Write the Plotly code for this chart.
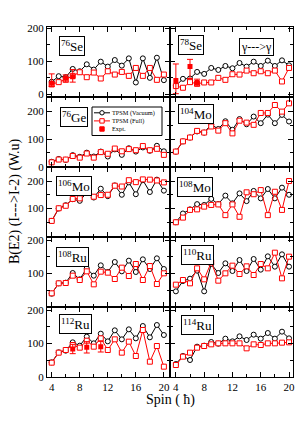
import plotly.graph_objects as go
from plotly.subplots import make_subplots

spins = list(range(4, 21))

# TPSM (Vacuum) / TPSM (Full) values, spin 4..20
se76_vac = [38, 55, 52, 77, 70, 91, 75, 99, 84, 104, 87, 109, 36, 109, 50, 111, 43]
se76_full = [30, 37, 45, 56, 67, 52, 66, 48, 70, 60, 68, 56, 80, 56, 80, 44, 60]
se76_exp_spin = [4, 6, 7]
se76_exp = [34, 49, 53]
se76_exp_up = [28, 10, 22]
se76_exp_dn = [10, 12, 16]

se78_vac = [26, 47, 48, 68, 62, 80, 74, 86, 79, 95, 84, 99, 86, 102, 86, 103, 88]
se78_full = [25, 20, 37, 32, 36, 36, 50, 44, 61, 60, 72, 64, 70, 64, 72, 39, 80]
se78_exp_spin = [4, 6, 7]
se78_exp = [42, 84, 36]
se78_exp_up = [50, 22, 10]
se78_exp_dn = [40, 36, 10]

ge76_vac = [18, 28, 25, 42, 36, 51, 37, 55, 37, 63, 43, 67, 55, 70, 58, 76, 56]
ge76_full = [16, 26, 26, 39, 33, 48, 33, 53, 47, 66, 56, 64, 60, 75, 60, 65, 43]

mo104_vac = [55, 92, 106, 128, 124, 153, 137, 165, 134, 173, 154, 182, 158, 189, 158, 188, 164]
mo104_full = [55, 92, 106, 130, 124, 146, 131, 158, 121, 167, 160, 152, 195, 195, 224, 200, 230]

mo106_vac = [55, 100, 112, 134, 128, 158, 140, 172, 145, 184, 150, 195, 152, 203, 160, 205, 165]
mo106_full = [55, 101, 110, 135, 137, 158, 143, 149, 150, 183, 180, 203, 196, 206, 205, 202, 195]

mo108_vac = [50, 82, 97, 116, 113, 135, 116, 147, 119, 155, 127, 164, 137, 171, 137, 176, 150]
mo108_full = [50, 67, 95, 97, 107, 113, 115, 76, 115, 70, 159, 152, 167, 76, 161, 95, 200]

ru108_vac = [39, 70, 72, 101, 82, 115, 93, 124, 104, 134, 106, 138, 104, 142, 113, 145, 113]
ru108_full = [40, 70, 71, 93, 80, 106, 67, 105, 102, 83, 117, 92, 128, 80, 122, 68, 100]

ru110_vac = [46, 77, 84, 108, 46, 128, 101, 130, 107, 140, 107, 143, 111, 151, 120, 157, 120]
ru110_full = [66, 80, 70, 115, 82, 133, 78, 100, 123, 98, 121, 95, 128, 115, 162, 85, 150]

ru112_vac = [43, 73, 78, 103, 93, 120, 100, 129, 106, 139, 112, 142, 115, 152, 118, 155, 125]
ru112_full = [42, 72, 80, 95, 87, 108, 90, 115, 80, 112, 72, 105, 62, 140, 45, 92, 30]
ru112_exp_spin = [7, 9, 11]
ru112_exp = [83, 88, 90]
ru112_exp_err = [14, 17, 16]

ru114_vac = [38, 62, 50, 90, 93, 104, 99, 114, 106, 121, 110, 126, 114, 131, 114, 135, 115]
ru114_full = [35, 60, 72, 87, 92, 97, 100, 100, 100, 100, 85, 97, 95, 100, 100, 102, 103]

# panel: (row, col, mass, element, vac, full)
panels = [
    (1, 1, "76", "Se", se76_vac, se76_full),
    (1, 2, "78", "Se", se78_vac, se78_full),
    (2, 1, "76", "Ge", ge76_vac, ge76_full),
    (2, 2, "104", "Mo", mo104_vac, mo104_full),
    (3, 1, "106", "Mo", mo106_vac, mo106_full),
    (3, 2, "108", "Mo", mo108_vac, mo108_full),
    (4, 1, "108", "Ru", ru108_vac, ru108_full),
    (4, 2, "110", "Ru", ru110_vac, ru110_full),
    (5, 1, "112", "Ru", ru112_vac, ru112_full),
    (5, 2, "114", "Ru", ru114_vac, ru114_full),
]
label_offsets = {  # (px from left, px from top) of label boxes
    (1, 1): (12, 9), (1, 2): (8, 8), (2, 1): (13, 10), (2, 2): (8, 7),
    (3, 1): (9, 9), (3, 2): (7, 10), (4, 1): (9, 10), (4, 2): (11, 8),
    (5, 1): (12, 7), (5, 2): (11, 8),
}

row_ranges = {1: [-8, 204], 2: [-1, 253], 3: [-3.5, 251], 4: [-1, 209], 5: [-1, 209]}
row_tickvals = {1: [0, 100, 200], 2: [0, 100, 200], 3: [100, 200],
                4: [100, 200], 5: [0, 100, 200]}
col_ranges = {1: [3.33, 20.8], 2: [3.1, 20.56]}
col_w = {1: 122.5, 2: 123.5}
row_h = 70.0

FONT = "Liberation Serif"
RED = "#ff0000"


def axref(idx):
    return "" if idx == 1 else str(idx)


fig = make_subplots(rows=5, cols=2, horizontal_spacing=0, vertical_spacing=0,
                    column_widths=[122.5, 123.5])

for (r, c, mass, el, vac, full) in panels:
    fig.add_trace(go.Scatter(x=spins, y=vac, mode="lines+markers",
                             line=dict(color="black", width=1),
                             marker=dict(symbol="circle", size=5, color="white",
                                         line=dict(color="black", width=1)),
                             showlegend=False), row=r, col=c)
    fig.add_trace(go.Scatter(x=spins, y=full, mode="lines+markers",
                             line=dict(color=RED, width=1),
                             marker=dict(symbol="square", size=5, color="white",
                                         line=dict(color=RED, width=1)),
                             showlegend=False), row=r, col=c)


def add_exp(xs, ys, up, dn, r, c):
    fig.add_trace(go.Scatter(x=xs, y=ys, mode="markers",
                             marker=dict(symbol="square", size=5, color=RED),
                             error_y=dict(type="data", array=up, arrayminus=dn,
                                          color=RED, thickness=1, width=3),
                             showlegend=False), row=r, col=c)


add_exp(se76_exp_spin, se76_exp, se76_exp_up, se76_exp_dn, 1, 1)
add_exp(se78_exp_spin, se78_exp, se78_exp_up, se78_exp_dn, 1, 2)
add_exp(ru112_exp_spin, ru112_exp, ru112_exp_err, ru112_exp_err, 5, 1)

axis_common = dict(showline=True, linecolor="black", linewidth=1, mirror="ticks",
                   ticks="inside", tickcolor="black", showgrid=False, zeroline=False,
                   automargin=False,
                   tickfont=dict(family=FONT, size=11, color="black"))

for r in range(1, 6):
    for c in range(1, 3):
        fig.update_xaxes(range=col_ranges[c], tickmode="linear", tick0=0, dtick=4,
                         ticklen=5, showticklabels=(r == 5),
                         minor=dict(tickmode="linear", tick0=0, dtick=2, ticks="inside",
                                    ticklen=3, tickcolor="black"),
                         row=r, col=c, **axis_common)
        fig.update_yaxes(range=row_ranges[r], tickmode="array", tickvals=row_tickvals[r],
                         ticklen=5, showticklabels=(c == 1),
                         minor=dict(tickmode="linear", tick0=0, dtick=50, ticks="inside",
                                    ticklen=3, tickcolor="black"),
                         row=r, col=c, **axis_common)

annotations = []
for (r, c, mass, el, vac, full) in panels:
    idx = (r - 1) * 2 + c
    ox, oy = label_offsets[(r, c)]
    annotations.append(dict(
        xref=f"x{axref(idx)} domain", yref=f"y{axref(idx)} domain",
        x=ox / col_w[c], y=1 - oy / row_h, xanchor="left", yanchor="top",
        text=f"<sup>{mass}</sup>{el}", showarrow=False,
        font=dict(family=FONT, size=13, color="black"),
        bordercolor="black", borderwidth=1, borderpad=1, bgcolor="white"))

annotations.append(dict(xref="x2 domain", yref="y2 domain", x=69.5 / col_w[2],
                        y=1 - 11 / row_h, xanchor="left", yanchor="top",
                        text="γ--->γ", showarrow=False,
                        font=dict(family=FONT, size=12, color="black"),
                        bordercolor="black", borderwidth=1, borderpad=1, bgcolor="white"))

annotations.append(dict(xref="paper", yref="paper", x=0.5, y=-0.066,
                        xanchor="center", yanchor="middle", text="Spin ( ħ)",
                        showarrow=False, font=dict(family=FONT, size=14, color="black")))
annotations.append(dict(xref="paper", yref="paper", x=-0.13, y=0.5,
                        xanchor="center", yanchor="middle", textangle=-90,
                        text="B(E2) (I--->I-2) (W.u)", showarrow=False,
                        font=dict(family=FONT, size=14, color="black")))

# Legend drawn in the 76Ge panel (axis 3)
shapes = []
lx0, lx1 = (92 - 47) / col_w[1], (162 - 47) / col_w[1]
ly0, ly1 = 1 - 38.5 / row_h, 1 - 10 / row_h
shapes.append(dict(type="rect", xref="x3 domain", yref="y3 domain", x0=lx0, x1=lx1,
                   y0=ly0, y1=ly1, line=dict(color="black", width=1), fillcolor="white",
                   layer="above"))
seg0, seg1 = (94 - 47) / col_w[1], (110 - 47) / col_w[1]
mid = (seg0 + seg1) / 2
line_gap = 8.1
y_first = 15.8
leg_items = [("black", "circle"), (RED, "square"), (RED, "filled")]
mw = 2.2 / col_w[1]
mh = 2.2 / row_h
for i, (col, kind) in enumerate(leg_items):
    yy = 1 - (y_first + i * line_gap) / row_h
    if kind != "filled":
        shapes.append(dict(type="line", xref="x3 domain", yref="y3 domain", x0=seg0,
                           x1=seg1, y0=yy, y1=yy, line=dict(color=col, width=1),
                           layer="above"))
        shapes.append(dict(type="circle" if kind == "circle" else "rect",
                           xref="x3 domain", yref="y3 domain",
                           x0=mid - mw, x1=mid + mw, y0=yy - mh, y1=yy + mh,
                           line=dict(color=col, width=1), fillcolor="white", layer="above"))
    else:
        shapes.append(dict(type="rect", xref="x3 domain", yref="y3 domain",
                           x0=mid - mw, x1=mid + mw, y0=yy - mh, y1=yy + mh,
                           line=dict(color=col, width=1), fillcolor=col, layer="above"))
annotations.append(dict(xref="x3 domain", yref="y3 domain", x=(111 - 47) / col_w[1],
                        y=1 - (y_first + line_gap) / row_h, xanchor="left",
                        yanchor="middle", align="left",
                        text="TPSM (Vacuum)<br>TPSM (Full)<br>Expt.",
                        showarrow=False, borderpad=0,
                        font=dict(family=FONT, size=6.3, color="black")))

fig.update_layout(width=299, height=423, margin=dict(l=47, r=6, t=27, b=46),
                  paper_bgcolor="white", plot_bgcolor="white",
                  annotations=annotations, shapes=shapes, showlegend=False)

fig.write_html("out.html", config={"displayModeBar": False},
               post_script="document.body.style.margin='0';document.body.style.padding='0';")
